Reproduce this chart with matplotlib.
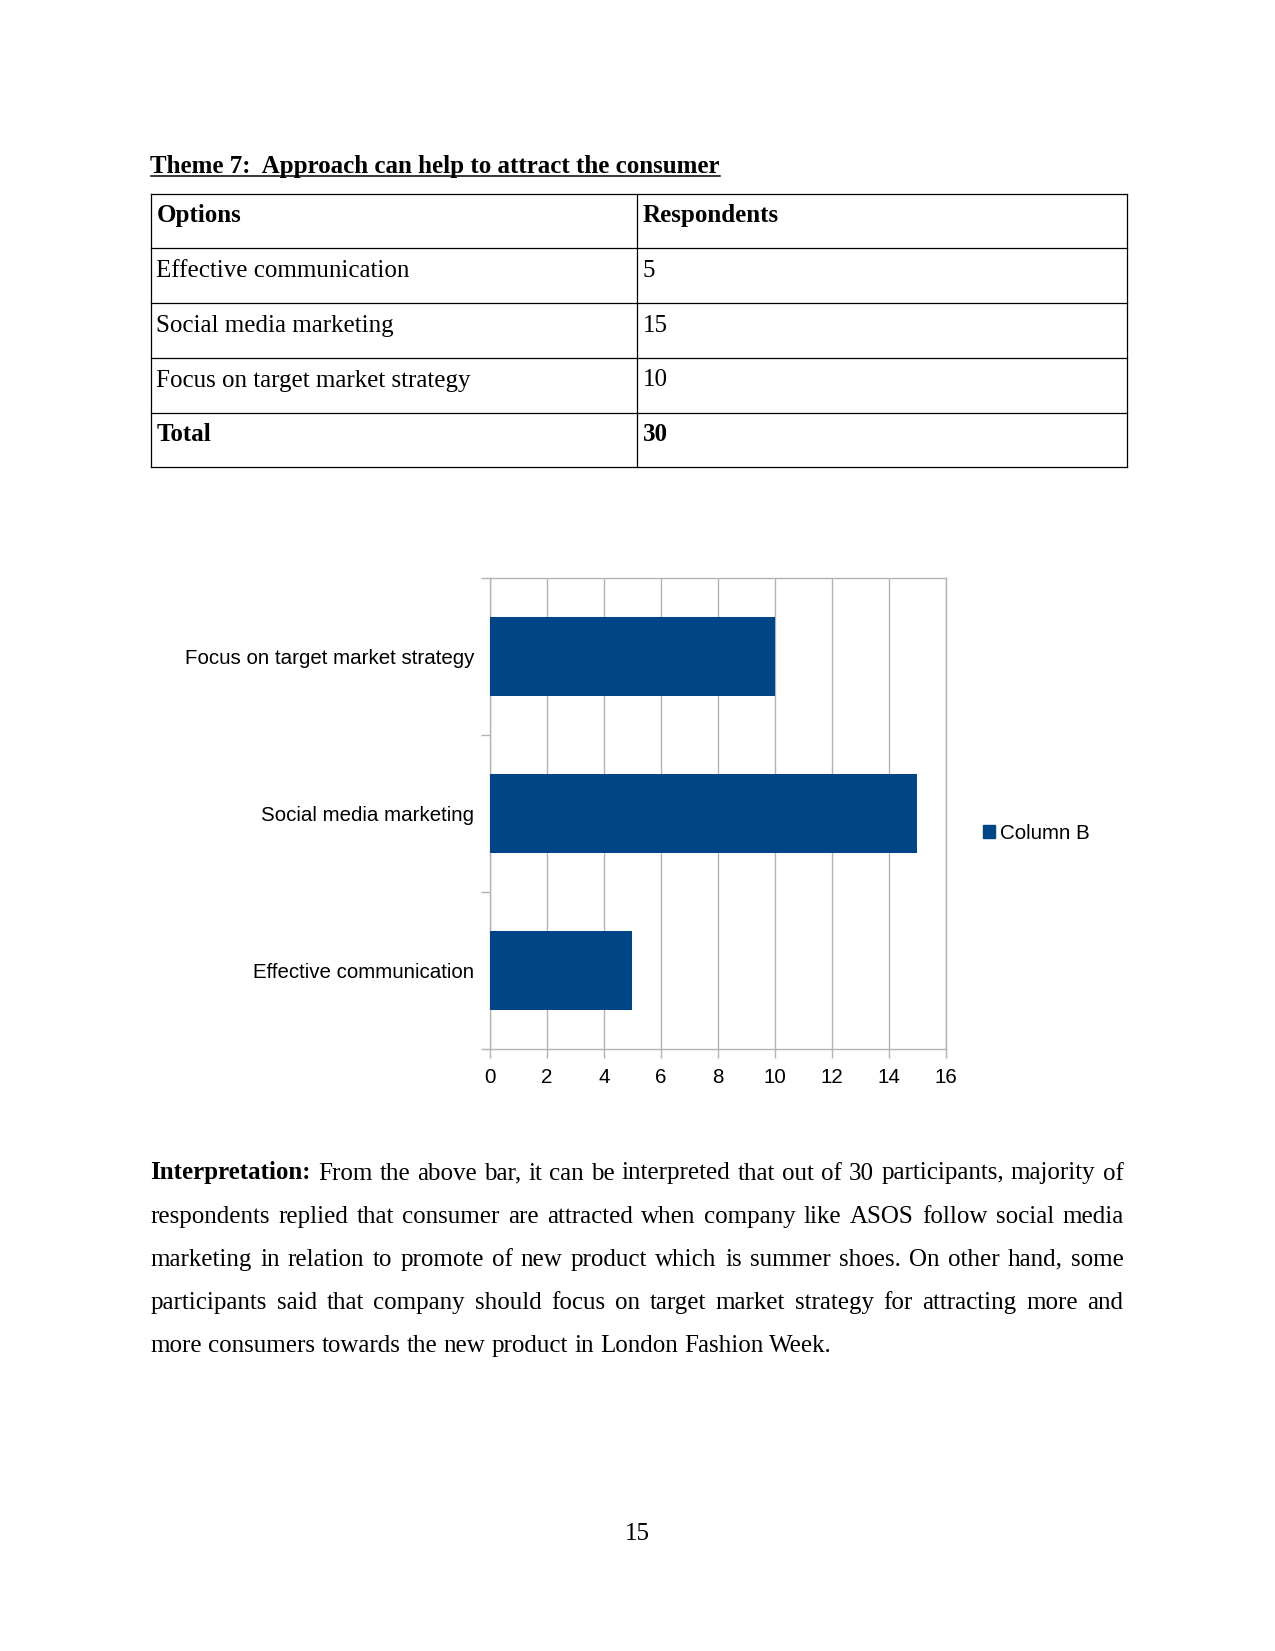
import matplotlib
matplotlib.use("Agg")
import matplotlib.pyplot as plt
from matplotlib.patches import Patch

# table / chart data
options = ["Effective communication", "Social media marketing", "Focus on target market strategy"]
respondents = [5, 15, 10]
total = sum(respondents)
x_ticks = [0, 2, 4, 6, 8, 10, 12, 14, 16]
series_name = "Column B"

title = "Theme 7:  Approach can help to attract the consumer"
para_lines = [
    "From the above bar, it can be interpreted that out of 30 participants, majority of",
    "respondents replied that consumer are attracted when company like ASOS follow social media",
    "marketing in relation to promote of new product which is summer shoes. On other hand, some",
    "participants said that company should focus on target market strategy for attracting more and",
    "more consumers towards the new product in London Fashion Week.",
]
page_no = "15"

W, H = 1275, 1651
SERIF = "Liberation Serif"
SANS = "Liberation Sans"
BAR = "#004586"
GRID = "#b3b3b3"
CHART_FS = 14.8

fig = plt.figure(figsize=(W / 100, H / 100), dpi=100)
bg = fig.add_axes([0, 0, 1, 1])
bg.set_xlim(0, W)
bg.set_ylim(H, 0)
bg.axis("off")

# title, underlined
t = bg.text(150.5, 172.5, title, fontfamily=SERIF, fontsize=18, fontweight="bold", va="baseline")
renderer = fig.canvas.get_renderer()
tw = t.get_window_extent(renderer).width
bg.plot([150.5, 150.5 + tw], [176, 176], color="black", lw=1.1)

# table
left, mid, right = 150.5, 637, 1126.5
row_tops = [193.7, 248.5, 303.2, 358, 412.7, 467.4]
for y in row_tops:
    bg.plot([left, right], [y, y], color="black", lw=0.9)
for x in (left, mid, right):
    bg.plot([x, x], [row_tops[0], row_tops[-1]], color="black", lw=0.9)

rows = [("Options", "Respondents", True)]
rows += [(o, str(r), False) for o, r in zip(options, respondents)]
rows.append(("Total", str(total), True))
for i, (a, b, bold) in enumerate(rows):
    yb = row_tops[i] + 28.5
    w = "bold" if bold else "normal"
    bg.text(156.5, yb, a, fontfamily=SERIF, fontsize=18, fontweight=w, va="baseline")
    bg.text(643, yb, b, fontfamily=SERIF, fontsize=18, fontweight=w, va="baseline")

# bar chart
ax = fig.add_axes([489.7 / W, 1 - 1049.3 / H, (946 - 489.7) / W, (1049.3 - 578) / H])
ypos = list(range(len(options)))
ax.barh(ypos, respondents, height=0.5, color=BAR, zorder=3)
ax.set_xlim(0, 16)
ax.set_ylim(-0.5, len(options) - 0.5)
ax.set_xticks(x_ticks)
ax.set_xticklabels([str(v) for v in x_ticks], fontfamily=SANS, fontsize=CHART_FS)
ax.set_yticks(ypos)
ax.set_yticklabels(options, fontfamily=SANS, fontsize=CHART_FS)
ax.set_yticks([-0.5, 0.5, 1.5, 2.5], minor=True)
ax.grid(axis="x", color=GRID, lw=1, zorder=0)
ax.set_axisbelow(True)
ax.tick_params(axis="y", which="major", length=0, pad=11.3)
ax.tick_params(axis="y", which="minor", length=6.5, color=GRID, width=1)
ax.tick_params(axis="x", length=6.5, color=GRID, width=1, pad=7)
for s in ax.spines.values():
    s.set_color(GRID)
    s.set_linewidth(1)

fig.legend(handles=[Patch(color=BAR, label=series_name)], loc="center left",
           bbox_to_anchor=(982.5 / W, 1 - 833 / H), frameon=False,
           prop={"family": SANS, "size": CHART_FS}, handlelength=0.62, handleheight=0.62,
           handletextpad=0.25, borderpad=0, borderaxespad=0)

# interpretation paragraph, justified like the page
p_left, p_right = 150.5, 1123.5
lead = "Interpretation:"
for i, line in enumerate(para_lines):
    yb = 1179.5 + 43.2 * i
    words = line.split(" ")
    items = [(w, "normal") for w in words]
    if i == 0:
        items = [(lead, "bold")] + items
    texts = [bg.text(0, yb, w, fontfamily=SERIF, fontsize=18, fontweight=fw, va="baseline")
             for w, fw in items]
    widths = [tx.get_window_extent(renderer).width for tx in texts]
    if i < len(para_lines) - 1:
        gap = (p_right - p_left - sum(widths)) / (len(texts) - 1)
    else:
        gap = 6.2
    x = p_left
    for tx, wd in zip(texts, widths):
        tx.set_x(x)
        x += wd + gap

bg.text(637, 1540, page_no, fontfamily=SERIF, fontsize=18, ha="center", va="baseline")

fig.savefig("out.png", dpi=100)
